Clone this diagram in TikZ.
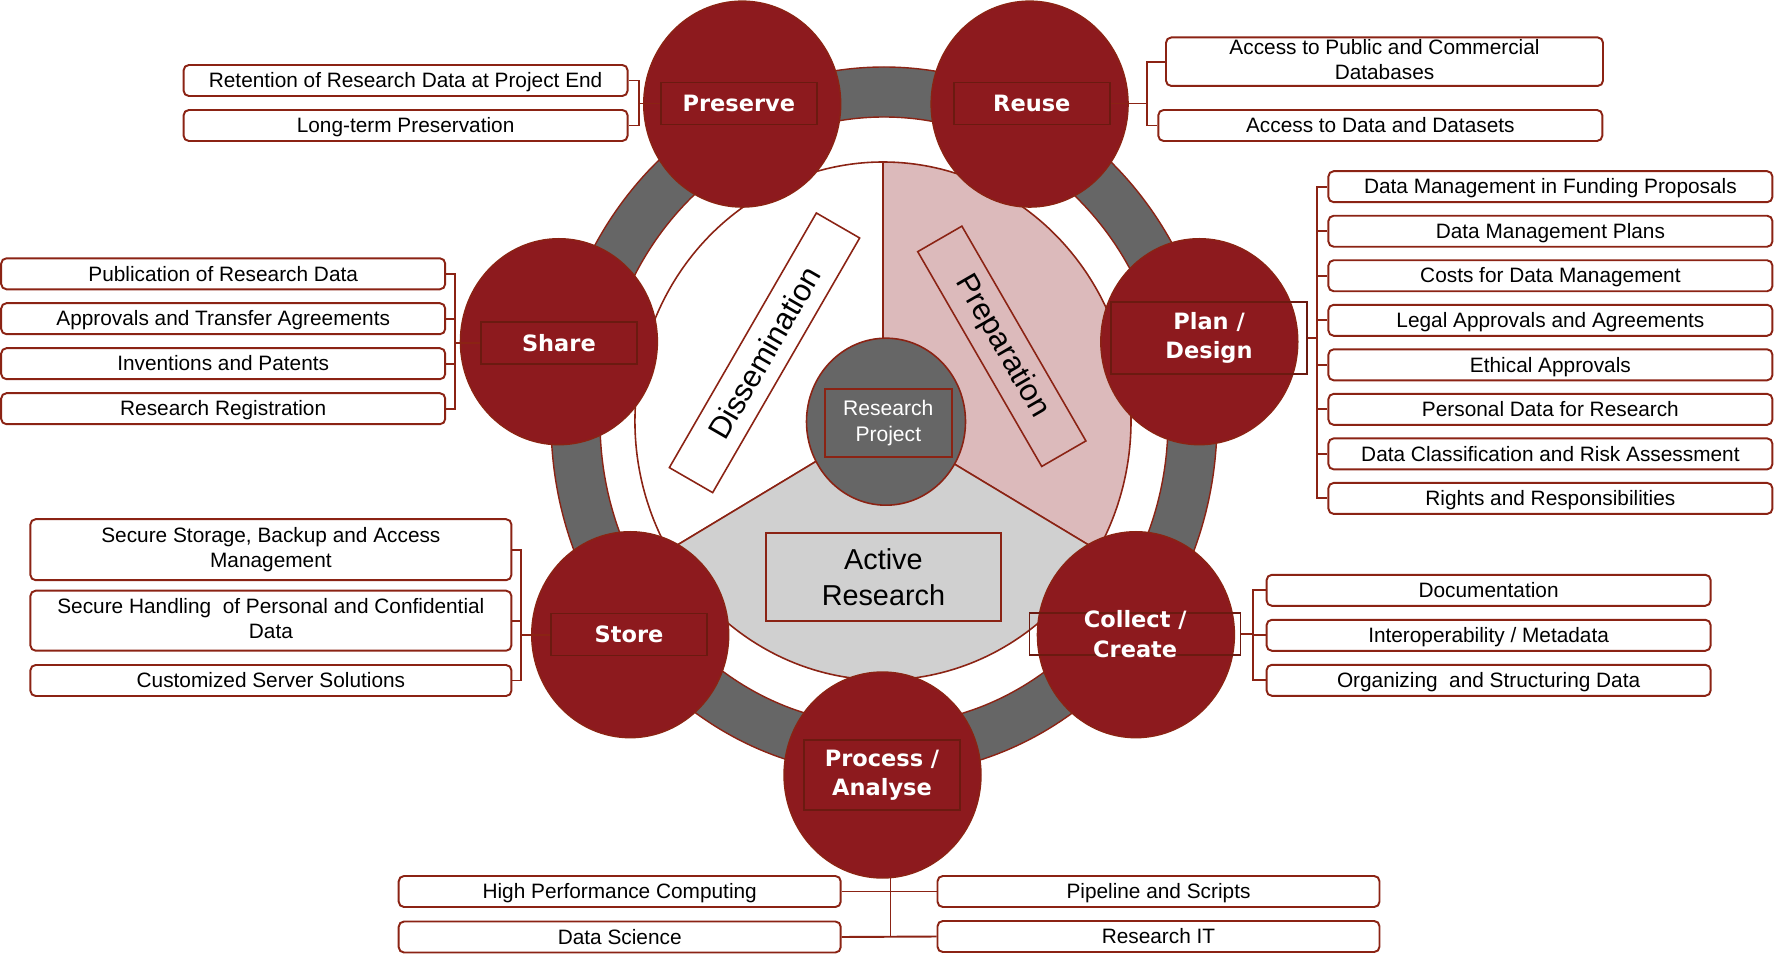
\documentclass[tikz,border=0pt]{standalone}
\usepackage{fontspec}
\setmainfont{Liberation Sans}
\newfontfamily\phasefont{DejaVu Sans}
\usetikzlibrary{shapes.geometric}

\definecolor{phasered}{HTML}{8D1A1E}
\definecolor{linered}{HTML}{8B2314}
\definecolor{boxred}{HTML}{6B1A10}
\definecolor{ringgray}{HTML}{666666}
\definecolor{pinkfill}{HTML}{DCBABB}
\definecolor{greyfill}{HTML}{D0D0D0}

\def \px {0.02cm}
\def \itemstrut {\rule[-0.212em]{0pt}{1.117em}}

\tikzset{
  item/.style={draw=linered, line width=1.1pt, fill=white, rounded corners=3pt,
    minimum width=444*\px, minimum height=31*\px, inner sep=0pt, align=center,
    font=\fontsize{11.85}{14.2}\selectfont, execute at begin node=\itemstrut},
  phase/.style={ellipse, draw=linered, fill=phasered, line width=0.8pt,
    minimum width=197*\px, minimum height=206*\px},
  phasebox/.style={draw=boxred, line width=0.8pt, minimum width=156*\px,
    minimum height=42*\px, inner sep=0pt},
  phasetext/.style={text=white, align=center,
    font=\phasefont\bfseries\fontsize{12.8}{16.7}\selectfont},
  sectorbox/.style={draw=linered, line width=0.9pt, inner sep=0pt,
    font=\fontsize{17.5}{21}\selectfont},
  link/.style={draw=linered, line width=1.1pt},
}

\begin{document}
\begin{tikzpicture}[x=0.02cm, y=-0.02cm]
\useasboundingbox (0,0) rectangle (1774,962);

% ring
\filldraw[fill=ringgray, draw=linered, line width=0.8pt, even odd rule]
  (884,421) ellipse [x radius=333, y radius=354]
  (884,421) ellipse [x radius=284, y radius=304];

% pie
\filldraw[fill=white, draw=linered, line width=0.9pt]
  (883,421) -- (668.2,550.5) arc[start angle=150, end angle=270, x radius=248, y radius=259] -- cycle;
\filldraw[fill=pinkfill, draw=linered, line width=0.9pt]
  (883,421) -- (883,162) arc[start angle=270, end angle=390, x radius=248, y radius=259] -- cycle;
\filldraw[fill=greyfill, draw=linered, line width=0.9pt]
  (883,421) -- (1097.8,550.5) arc[start angle=30, end angle=150, x radius=248, y radius=259] -- cycle;

% centre
\node[ellipse, draw=linered, fill=ringgray, line width=0.9pt,
  minimum width=159*\px, minimum height=167*\px] (project) at (886,421.7) {};
\node[draw=linered, line width=1.2pt, minimum width=127*\px, minimum height=68*\px,
  inner sep=0pt, text=white, align=center, font=\fontsize{12}{15}\selectfont]
  (project-t) at (888.3,423) {Research\\Project};

\node[sectorbox, fill=white, rotate=60, minimum width=294*\px, minimum height=50*\px]
  (dissem) at (764.5,352.8) {Dissemination};
\node[sectorbox, rotate=-60, minimum width=248*\px, minimum height=51*\px]
  (prep) at (1001.8,346.3) {Preparation};
\node[sectorbox, minimum width=235*\px, minimum height=88*\px, align=center,
  font=\fontsize{16.4}{20.5}\selectfont] (active) at (883.4,576.8) {Active\\Research};

% phases
\node[phase] (preserve) at (742.2,104.1) {};
\node[phase] (reuse) at (1029.6,104.1) {};
\node[phase] (plan) at (1199.3,341.7) {};
\node[phase] (collect) at (1135.9,634.7) {};
\node[phase] (process) at (882.5,775) {};
\node[phase] (store) at (630.2,634.7) {};
\node[phase] (share) at (558.9,341.7) {};

\node[phasebox, phasetext] (preserve-t) at (738.8,103.5) {Preserve};
\node[phasebox, phasetext] (reuse-t) at (1031.8,103.5) {Reuse};
\node[phasebox, phasetext, minimum width=196*\px, minimum height=72*\px]
  (plan-t) at (1209,337.8) {Plan /\\Design};
\node[phasebox, minimum width=211*\px, label={[phasetext]center:Collect /\\Create}]
  (collect-t) at (1135.2,634) {};
\node[phasebox, phasetext, minimum height=70*\px] (process-t) at (882,775) {Process /\\Analyse};
\node[phasebox, phasetext] (store-t) at (629,634.7) {Store};
\node[phasebox, phasetext] (share-t) at (558.9,342.8) {Share};

% preserve / reuse
\node[item] (pres-a) at (405.6,80.5) {Retention of Research Data at Project End};
\node[item] (pres-b) at (405.6,125.5) {Long-term Preservation};
\node[item, minimum width=437*\px, minimum height=48.5*\px] (reuse-a) at (1384.5,61.7)
  {Access to Public and Commercial\\Databases};
\node[item] (reuse-b) at (1380.3,125.5) {Access to Data and Datasets};

% plan / design
\foreach \t [count=\i] in {Data Management in Funding Proposals, Data Management Plans,
    Costs for Data Management, Legal Approvals and Agreements, Ethical Approvals,
    Personal Data for Research, Data Classification and Risk Assessment,
    Rights and Responsibilities}
  \node[item] (plan-\i) at (1550.4,{186.7+44.53*(\i-1)}) {\t};

% share
\node[item] (share-a) at (223.2,273.8) {Publication of Research Data};
\node[item] (share-b) at (223.2,318.7) {Approvals and Transfer Agreements};
\node[item] (share-c) at (223.2,363.7) {Inventions and Patents};
\node[item] (share-d) at (223.2,408.7) {Research Registration};

% store
\node[item, minimum width=481*\px, minimum height=61*\px] (store-a) at (270.9,549.7)
  {Secure Storage, Backup and Access\\Management};
\node[item, minimum width=481*\px, minimum height=60*\px] (store-b) at (270.9,620.7)
  {Secure Handling~ of Personal and Confidential\\Data};
\node[item, minimum width=481*\px] (store-c) at (270.9,680.5) {Customized Server Solutions};

% collect / create
\node[item] (coll-a) at (1488.6,590.3) {Documentation};
\node[item] (coll-b) at (1488.6,635.3) {Interoperability / Metadata};
\node[item] (coll-c) at (1488.6,680.3) {Organizing~ and Structuring Data};

% process / analyse
\node[item, minimum width=442*\px] (hpc) at (619.7,891.5) {High Performance Computing};
\node[item, minimum width=442*\px] (pipe) at (1158.5,891.5) {Pipeline and Scripts};
\node[item, minimum width=442*\px] (dsci) at (619.7,937) {Data Science};
\node[item, minimum width=442*\px] (rit) at (1158.5,936.5) {Research IT};

% brackets
\foreach \b in {pres-a,pres-b}
  \draw[link] (preserve-t.west) -- ++(-20.7,0) |- (\b.east);
\foreach \b in {reuse-a,reuse-b}
  \draw[link] (reuse-t.east) -- ++(36.6,0) |- (\b.west);
\foreach \i in {1,...,8}
  \draw[link] (plan-t.east) -- ++(9,0) |- (plan-\i.west);
\foreach \b in {share-a,share-b,share-c,share-d}
  \draw[link] (share-t.west) -- ++(-24.8,0) |- (\b.east);
\foreach \b in {store-a,store-b,store-c}
  \draw[link] (store-t.west) -- ++(-29,0) |- (\b.east);
\foreach \b in {coll-a,coll-b,coll-c}
  \draw[link] (collect-t.east) -- ++(12,0) |- (\b.west);
\coordinate (process-foot) at (890.5,878);
\draw[link] (process-foot) -- (process-foot |- dsci.east);
\draw[link] (hpc.east) -- (pipe.west);
\draw[link] (dsci.east) -- (rit.west);
\end{tikzpicture}
\end{document}
